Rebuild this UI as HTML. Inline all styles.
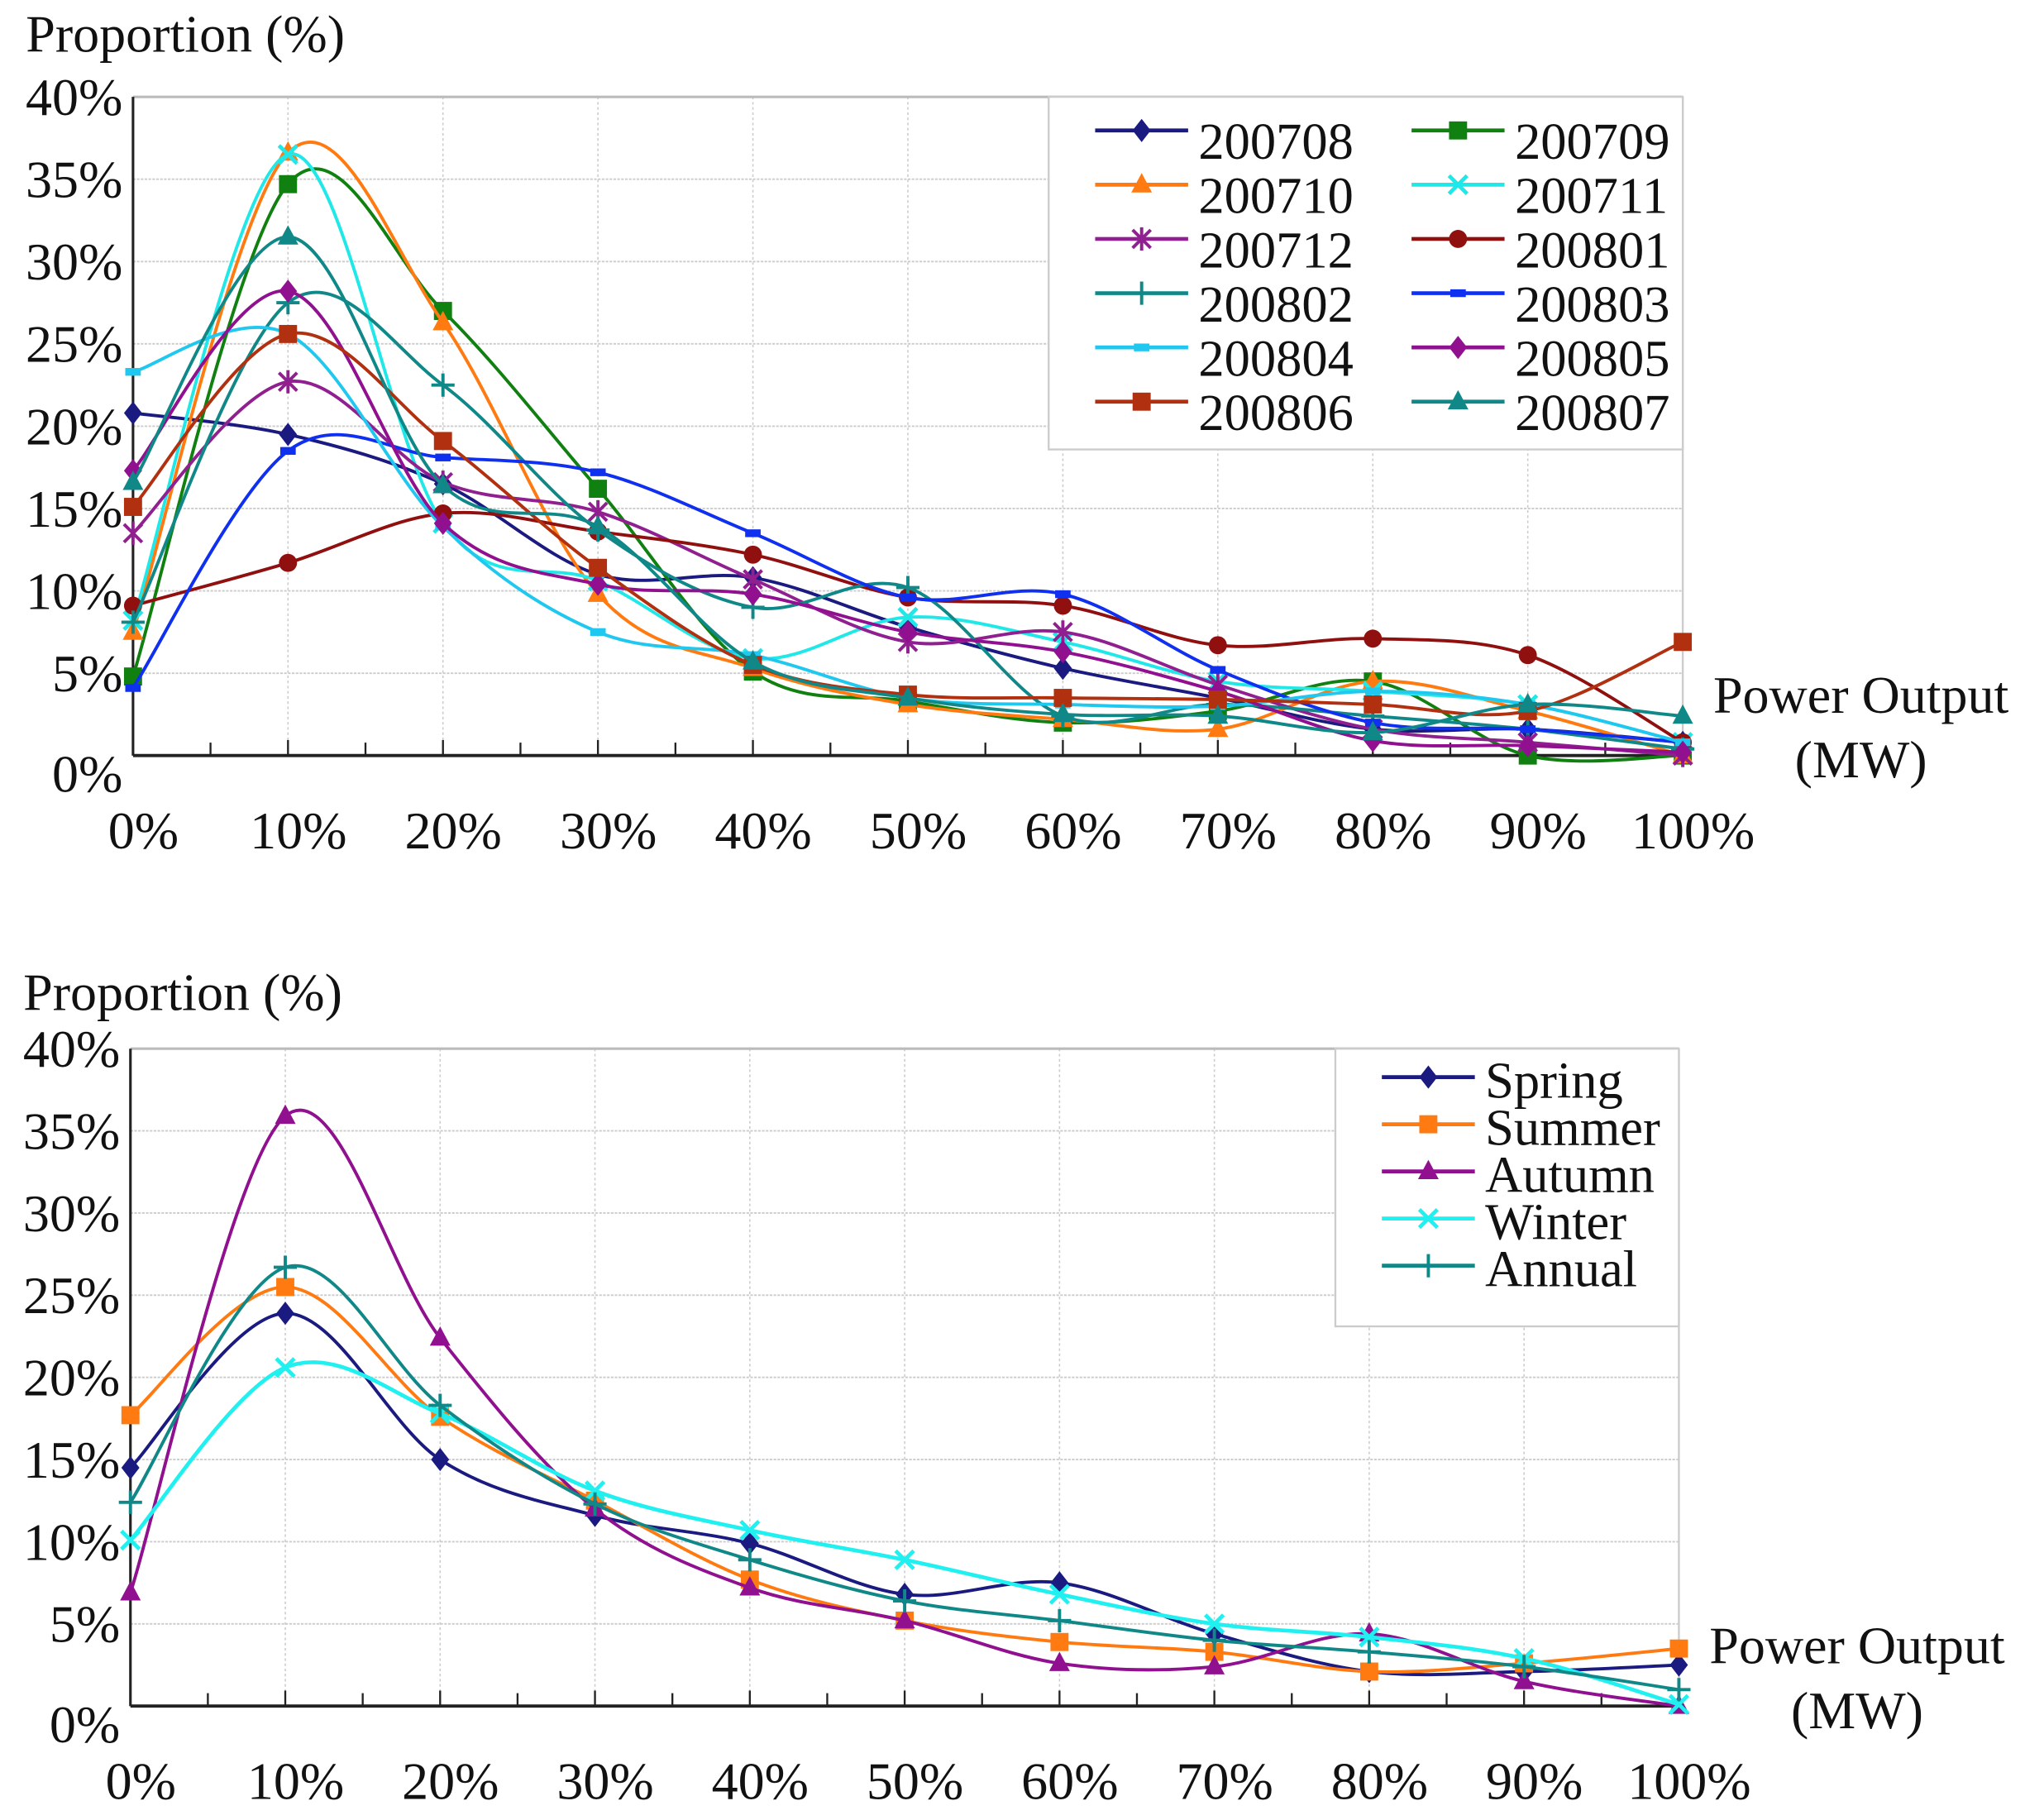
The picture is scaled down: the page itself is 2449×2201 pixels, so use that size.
<!DOCTYPE html>
<html><head><meta charset="utf-8"><style>
html,body{margin:0;padding:0;background:#fff}
svg{display:block}
text{font-family:"Liberation Serif",serif;fill:#111}
</style></head><body>
<svg id="svg" width="2449" height="2201" viewBox="0 0 1568 1409.2" xmlns="http://www.w3.org/2000/svg"></svg>
<script>
const xCats=[0,10,20,30,40,50,60,70,80,90,100];
const xTickLabels=["0%","10%","20%","30%","40%","50%","60%","70%","80%","90%","100%"];
const yTicks=[0,5,10,15,20,25,30,35,40];
const s200708=[20.8,19.5,16.5,11,10.8,7.8,5.3,3.5,1.6,1.6,0.8];
const s200709=[4.8,34.7,27,16.2,5.1,3.3,2,2.7,4.5,0,0];
const s200710=[7.5,36.6,26.3,9.8,5.3,3.1,2.2,1.6,4.5,2.7,0];
const s200711=[8.2,36.5,14.1,10.6,5.9,8.4,6.9,4.5,3.9,3.1,0.8];
const s200712=[13.5,22.7,16.6,14.8,10.7,6.9,7.5,4.3,1.6,0.8,0];
const s200801=[9.1,11.7,14.7,13.6,12.2,9.6,9.1,6.7,7.1,6.1,0.8];
const s200802=[8.1,27.5,22.5,13.7,9.0,10.2,2.4,3.1,2.4,1.6,0.4];
const s200803=[4.1,18.5,18.1,17.2,13.5,9.6,9.8,5.2,2,1.6,0.8];
const s200804=[23.3,25.6,13.9,7.5,6.1,3.5,3.1,3,3.9,3.1,0.8];
const s200805=[17.3,28.2,14.1,10.4,9.8,7.5,6.3,3.9,0.9,0.6,0.2];
const s200806=[15.1,25.6,19.1,11.4,5.5,3.7,3.5,3.4,3.1,2.7,6.9];
const s200807=[16.6,31.5,16.4,13.9,5.7,3.5,2.5,2.4,1.4,3.1,2.4];
const spring=[14.5,23.9,15,11.6,9.9,6.8,7.5,4.4,2.1,2.1,2.5];
const summer=[17.7,25.5,17.6,12.5,7.7,5.2,3.9,3.3,2.1,2.6,3.5];
const autumn=[6.9,35.9,22.4,12,7.2,5.2,2.6,2.4,4.4,1.5,0];
const winter=[10.1,20.6,17.8,13.1,10.7,8.9,6.8,5,4.2,2.9,0.1];
const annual=[12.4,26.7,18.3,12.3,8.9,6.4,5.2,4,3.3,2.4,1];

const NS="http://www.w3.org/2000/svg";
const svg=document.getElementById('svg');
function mk(tag,attrs,parent){const e=document.createElementNS(NS,tag);for(const k in attrs)e.setAttribute(k,attrs[k]);(parent||svg).appendChild(e);return e;}

function marker(g,type,x,y,c){
  let e;
  if(type==='diamond'){e=mk('path',{d:`M${x} ${y-9}L${x+7} ${y}L${x} ${y+9}L${x-7} ${y}Z`,fill:c},g);}
  else if(type==='square'){e=mk('rect',{x:x-7,y:y-7,width:14,height:14,fill:c},g);}
  else if(type==='triangle'){e=mk('path',{d:`M${x} ${y-9}L${x+8} ${y+6}L${x-8} ${y+6}Z`,fill:c},g);}
  else if(type==='circle'){e=mk('circle',{cx:x,cy:y,r:7,fill:c},g);}
  else if(type==='x'){e=mk('path',{d:`M${x-7} ${y-7}L${x+7} ${y+7}M${x+7} ${y-7}L${x-7} ${y+7}`,stroke:c,'stroke-width':3},g);}
  else if(type==='star'){e=mk('path',{d:`M${x-7} ${y-7}L${x+7} ${y+7}M${x+7} ${y-7}L${x-7} ${y+7}M${x} ${y-9}L${x} ${y+9}`,stroke:c,'stroke-width':2.5},g);}
  else if(type==='plus'){e=mk('path',{d:`M${x-9} ${y}L${x+9} ${y}M${x} ${y-9}L${x} ${y+9}`,stroke:c,'stroke-width':2.5},g);}
  else if(type==='dash'){e=mk('rect',{x:x-6,y:y-3,width:12,height:6,fill:c},g);}
  return e;
}

function chart(cfg){
  const {x0,x1,y0,y1,titleY,series,legend,name}=cfg;
  const g=mk('g',{});
  
  
  const X=v=>x0+(x1-x0)*v/100;
  const Y=v=>y0-(y0-y1)*v/40;
  for(let i=1;i<=10;i++){mk('line',{x1:X(i*10),x2:X(i*10),y1:y1,y2:y0,stroke:'#ccc','stroke-width':1,'stroke-dasharray':'2 2'},g);}
  yTicks.forEach(t=>{if(t>0)mk('line',{x1:x0,x2:x1,y1:Y(t),y2:Y(t),stroke:'#ccc','stroke-width':1.2,'stroke-dasharray':'2 1'},g);});
  mk('line',{x1:x0,x2:x1,y1:y1,y2:y1,stroke:'#bbb','stroke-width':2},g);
  mk('line',{x1:x1,x2:x1,y1:y1,y2:y0,stroke:'#ccc','stroke-width':1.5},g);
  const ax=mk('line',{x1:x0,x2:x1+2,y1:y0,y2:y0,stroke:'#222','stroke-width':2.5},g);
  
  const ay=mk('line',{x1:x0,x2:x0,y1:y1,y2:y0,stroke:'#222','stroke-width':2},g);
  
  for(let i=0;i<=20;i++){mk('line',{x1:X(i*5),x2:X(i*5),y1:y0,y2:y0-(i%2?10:12),stroke:'#222','stroke-width':1.5},g);}
  yTicks.forEach(t=>{
    const tx=mk('text',{x:x0-8,y:Y(t)+(t===0?28:14),'text-anchor':'end','font-size':41},g);tx.textContent=t+'%';
    
  });
  xCats.forEach((c,i)=>{
    const tx=mk('text',{x:X(c)+8,y:y0+72,'text-anchor':'middle','font-size':41},g);tx.textContent=xTickLabels[i];
    
  });
  const tt=mk('text',{x:x0-83,y:titleY,'font-size':41},g);tt.textContent='Proportion (%)';
  
  const xt=mk('text',{x:x1+138,y:y0-33,'text-anchor':'middle','font-size':41},g);xt.textContent='Power Output';
  
  const xt2=mk('text',{x:x1+138,y:y0+17,'text-anchor':'middle','font-size':41},g);xt2.textContent='(MW)';
  
  series.forEach(s=>{
    const sg=mk('g',{},g);
    
    
    const pts=s.data.map((v,i)=>[X(xCats[i]),Y(v)]);
    let d=`M${pts[0][0]} ${pts[0][1]}`;
    for(let i=0;i<pts.length-1;i++){
      const p0=pts[Math.max(0,i-1)],p1=pts[i],p2=pts[i+1],p3=pts[Math.min(pts.length-1,i+2)];
      const t=0.5/3;
      d+=`C${p1[0]+(p2[0]-p0[0])*t} ${p1[1]+(p2[1]-p0[1])*t},${p2[0]-(p3[0]-p1[0])*t} ${p2[1]-(p3[1]-p1[1])*t},${p2[0]} ${p2[1]}`;
    }
    const ln=mk('path',{d:d,fill:'none',stroke:s.color,'stroke-width':s.w||2.5},sg);
    
    
    pts.forEach(p=>{const m=marker(sg,s.m,p[0],p[1],s.color);
      
      });
  });
  const L=legend;
  const lg=mk('g',{},g);
  
  
  mk('rect',{x:L.x,y:L.y,width:L.w,height:L.h,fill:'#fff',stroke:'#ccc','stroke-width':1.5},lg);
  series.forEach((s,i)=>{
    const col=L.cols===2?i%2:0,row=L.cols===2?Math.floor(i/2):i;
    const lx=L.x+L.px+col*L.cw, ly=L.y+L.py+row*L.rh;
    const eg=mk('g',{},lg);
    
    
    mk('line',{x1:lx,x2:lx+72,y1:ly,y2:ly,stroke:s.color,'stroke-width':3},eg);
    marker(eg,s.m,lx+36,ly,s.color);
    const t=mk('text',{x:lx+80,y:ly+L.ty,'font-size':L.fs},eg);t.textContent=s.label;
  });
}

chart({name:'monthly-chart',x0:103,x1:1303,y0:585,y1:75,titleY:40,
  legend:{x:812,y:75,w:491,h:273,cols:2,px:36,py:26,cw:245,rh:42,ty:22,fs:40},
  series:[
    {label:'200708',data:s200708,color:'#1a1a80',m:'diamond'},
    {label:'200709',data:s200709,color:'#108010',m:'square'},
    {label:'200710',data:s200710,color:'#ff7a10',m:'triangle'},
    {label:'200711',data:s200711,color:'#20e8e8',m:'x'},
    {label:'200712',data:s200712,color:'#902090',m:'star'},
    {label:'200801',data:s200801,color:'#901010',m:'circle'},
    {label:'200802',data:s200802,color:'#108888',m:'plus'},
    {label:'200803',data:s200803,color:'#1030f0',m:'dash'},
    {label:'200804',data:s200804,color:'#20c8f0',m:'dash'},
    {label:'200805',data:s200805,color:'#901090',m:'diamond'},
    {label:'200806',data:s200806,color:'#b03010',m:'square'},
    {label:'200807',data:s200807,color:'#108888',m:'triangle'}
  ]});

chart({name:'seasonal-chart',x0:101,x1:1300,y0:1321,y1:812,titleY:782,
  legend:{x:1034,y:812,w:266,h:215,cols:1,px:36,py:22,cw:0,rh:36.5,ty:16,fs:40},
  series:[
    {label:'Spring',data:spring,color:'#1a1a80',m:'diamond'},
    {label:'Summer',data:summer,color:'#ff7a10',m:'square'},
    {label:'Autumn',data:autumn,color:'#901090',m:'triangle'},
    {label:'Winter',data:winter,color:'#20f0f0',m:'x',w:3},
    {label:'Annual',data:annual,color:'#108888',m:'plus'}
  ]});
</script>
</body></html>
